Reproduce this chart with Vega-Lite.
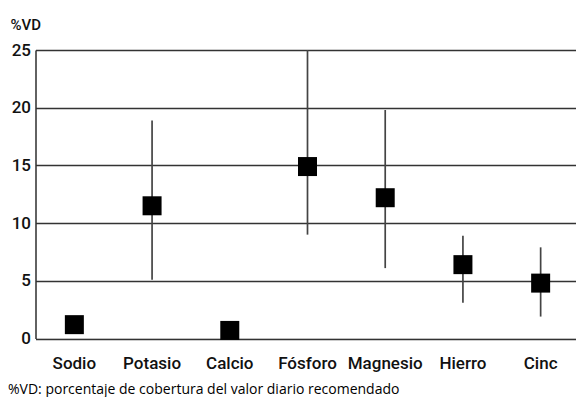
{
  "$schema": "https://vega.github.io/schema/vega-lite/v6.json",
  "autosize": "none",
  "width": 544,
  "height": 288.5,
  "padding": {"left": 35.5, "top": 50, "right": 0, "bottom": 58.5},
  "background": "white",
  "title": {
    "text": "%VD: porcentaje de cobertura del valor diario recomendado",
    "orient": "bottom",
    "anchor": "start",
    "frame": "group",
    "baseline": "top",
    "dx": -27.5,
    "offset": 11,
    "font": "Open Sans",
    "fontSize": 14,
    "fontWeight": "normal",
    "color": "#000"
  },
  "data": {
    "values": [
      {"mineral": "Sodio", "vd": 1.2, "lo": null, "hi": null},
      {"mineral": "Potasio", "vd": 11.5, "lo": 5.1, "hi": 18.9},
      {"mineral": "Calcio", "vd": 0.7, "lo": null, "hi": null},
      {"mineral": "Fósforo", "vd": 14.9, "lo": 9.0, "hi": 25},
      {"mineral": "Magnesio", "vd": 12.2, "lo": 6.1, "hi": 19.8},
      {"mineral": "Hierro", "vd": 6.4, "lo": 3.1, "hi": 8.9},
      {"mineral": "Cinc", "vd": 4.8, "lo": 1.9, "hi": 7.9}
    ]
  },
  "encoding": {
    "x": {
      "field": "mineral",
      "type": "nominal",
      "sort": ["Sodio", "Potasio", "Calcio", "Fósforo", "Magnesio", "Hierro", "Cinc"],
      "scale": {"type": "band", "paddingInner": 0, "paddingOuter": 0, "domain": ["Sodio", "Potasio", "Calcio", "Fósforo", "Magnesio", "Hierro", "Cinc"]},
      "axis": {
        "title": null,
        "domain": false,
        "ticks": false,
        "grid": false,
        "labelAngle": 0,
        "labelFont": "Roboto",
        "labelFontSize": 17,
        "labelFontWeight": 500,
        "labelColor": "#111",
        "labelPadding": 17
      }
    }
  },
  "layer": [
    {
      "mark": {"type": "rule", "color": "#444", "strokeWidth": 1.7},
      "encoding": {
        "y": {
          "field": "lo",
          "type": "quantitative",
          "scale": {"domain": [0, 25], "nice": false},
          "axis": {
            "values": [0, 5, 10, 15, 20, 25],
            "title": "%VD",
            "titleAngle": 0,
            "titleAlign": "left",
            "titleBaseline": "alphabetic",
            "titleX": -25.5,
            "titleY": -21,
            "titleFont": "Roboto",
            "titleFontSize": 15,
            "titleFontWeight": 500,
            "titleColor": "#111",
            "domain": true,
            "domainColor": "#333",
            "domainWidth": 1.5,
            "ticks": false,
            "grid": true,
            "gridColor": "#333",
            "gridWidth": 1.5,
            "gridOpacity": 1,
            "labelFont": "Roboto",
            "labelFontSize": 17,
            "labelFontWeight": 500,
            "labelColor": "#111",
            "labelPadding": 5
          }
        },
        "y2": {"field": "hi"}
      }
    },
    {
      "mark": {"type": "point", "shape": "square", "filled": true, "size": 361, "color": "#000", "opacity": 1},
      "encoding": {
        "y": {"field": "vd", "type": "quantitative"}
      }
    }
  ]
}
